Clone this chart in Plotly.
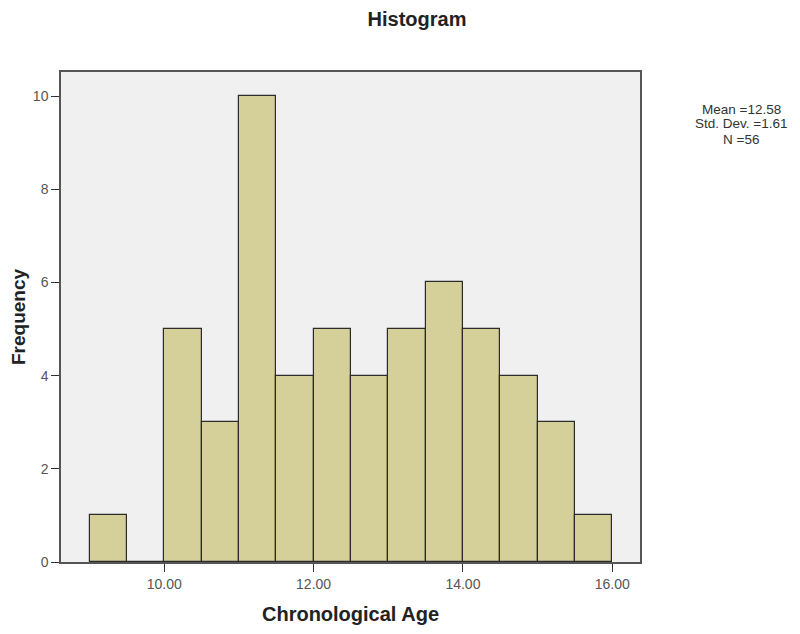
import plotly.graph_objects as go

bin_starts = [9.0, 9.5, 10.0, 10.5, 11.0, 11.5, 12.0, 12.5, 13.0, 13.5, 14.0, 14.5, 15.0, 15.5]
counts = [1, 0, 5, 3, 10, 4, 5, 4, 5, 6, 5, 4, 3, 1]
bin_width = 0.5
x_ticks = [10, 12, 14, 16]
x_tick_labels = ["10.00", "12.00", "14.00", "16.00"]
y_ticks = [0, 2, 4, 6, 8, 10]
stats_lines = ["Mean =12.58", "Std. Dev. =1.61", "N =56"]

centers = [s + bin_width / 2 for s in bin_starts]

fig = go.Figure()
fig.add_trace(go.Bar(
    x=centers, y=counts, width=bin_width,
    marker=dict(color="#d5cf9a", line=dict(color="#2b2b2b", width=1.2)),
    showlegend=False, hoverinfo="x+y",
))

W, H = 800, 634
L, T, PW, PH = 53, 64, 579.5, 490
font_family = "Liberation Sans, Arial, sans-serif"
fig.update_layout(
    width=W, height=H,
    margin=dict(l=L, r=W - L - PW, t=T, b=H - T - PH),
    paper_bgcolor="white",
    plot_bgcolor="#f0f0f0",
    font=dict(family=font_family, color="#555", size=14),
    title=dict(text="<b>Histogram</b>", x=409 / W, xanchor="center", y=1 - 11 / H, yanchor="middle",
               font=dict(size=20, color="#222")),
    bargap=0,
    xaxis=dict(
        range=[8.617, 16.372], tickvals=x_ticks, ticktext=x_tick_labels,
        ticks="outside", ticklen=8, tickcolor="#333", tickwidth=1,
        showline=True, linecolor="#555", linewidth=1.5, mirror=True,
        showgrid=False, zeroline=False, automargin=False,
        title=dict(text="<b>Chronological Age</b>", font=dict(size=20, color="#222"), standoff=16),
    ),
    yaxis=dict(
        range=[0, 10.515], tickvals=y_ticks,
        ticks="outside", ticklen=8, tickcolor="#333", tickwidth=1,
        showline=True, linecolor="#555", linewidth=1.5, mirror=True,
        showgrid=False, zeroline=False, automargin=False,
        title=dict(text="<b>Frequency</b>", font=dict(size=19, color="#222"), standoff=6),
    ),
)

for i, line in enumerate(stats_lines):
    fig.add_annotation(
        text=line, xref="paper", yref="paper",
        x=(734 - L) / PW, y=1 - (101 + 15 * i - T) / PH,
        xanchor="center", yanchor="middle", showarrow=False, align="center",
        font=dict(size=13.5, color="#333", family=font_family),
    )

fig.write_html("out.html")
